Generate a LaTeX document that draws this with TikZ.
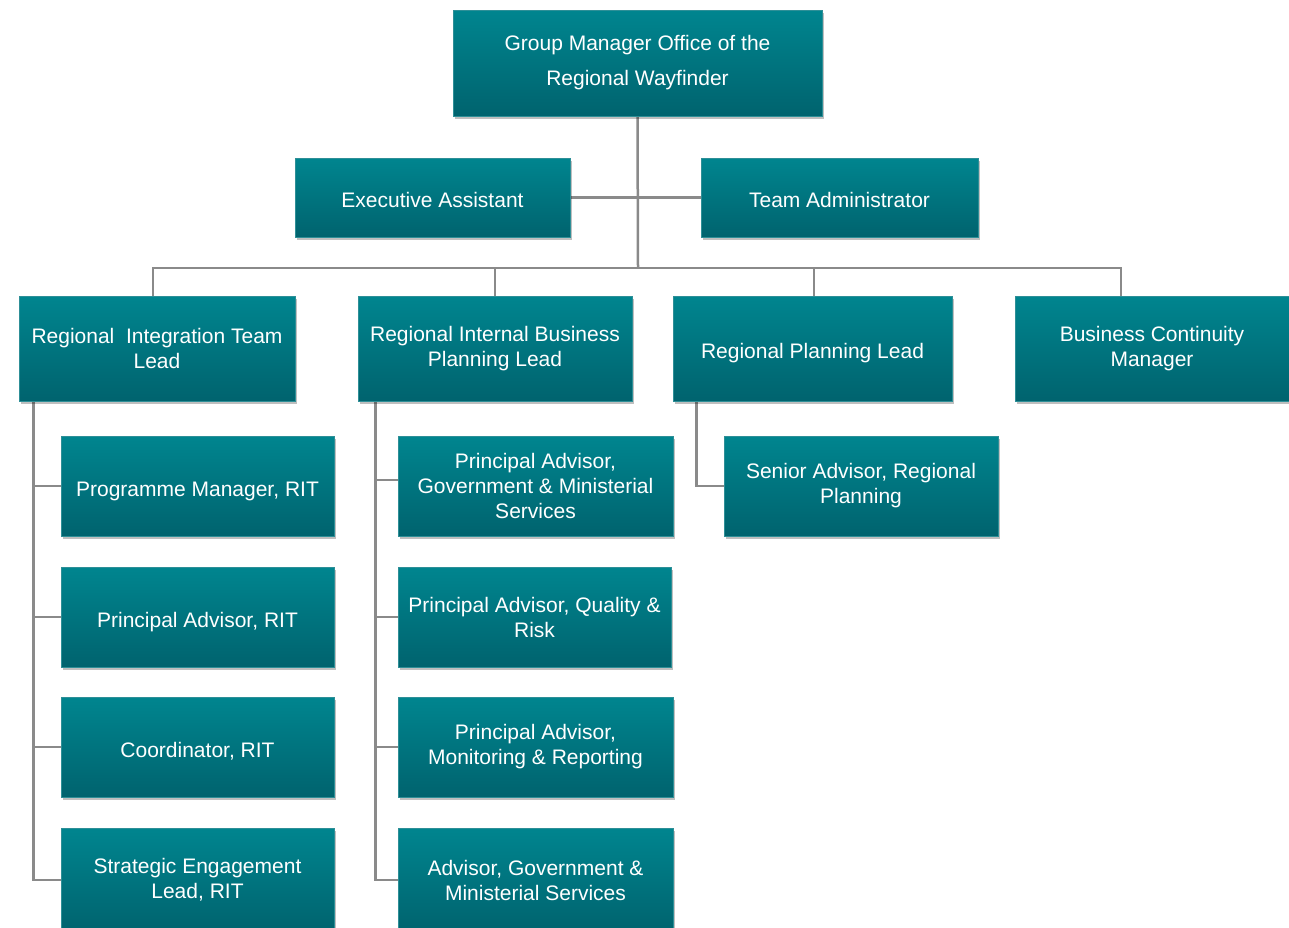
\documentclass[tikz,border=0pt]{standalone}
\usepackage{fontspec}
\setmainfont{Liberation Sans}
\usetikzlibrary{shadows,backgrounds}
\definecolor{tealtop}{HTML}{00858F}
\definecolor{tealbot}{HTML}{00636E}
\definecolor{tealedge}{HTML}{2E8F97}
\definecolor{conngray}{HTML}{8A8A8A}
\tikzset{
  box/.style={rectangle, top color=tealtop, bottom color=tealbot, draw=tealedge, line width=0.8pt,
    text=white, align=center, inner sep=2pt,
    font=\fontsize{21}{25}\selectfont,
    drop shadow={shadow xshift=2pt, shadow yshift=-3pt, opacity=0.25, fill=black}},
  one/.style={text depth=0pt, text height=20pt},
  conn/.style={draw=conngray, line width=2.5pt}
}
\begin{document}
\begin{tikzpicture}[x=1pt,y=-1pt]
\useasboundingbox (0,0) rectangle (1289,927);
\clip (0,0) rectangle (1289,927);
\coordinate (bus) at (638,268);
% top level
\node[box, minimum width=369pt, minimum height=106pt, font=\fontsize{21}{35}\selectfont] (top) at (637.5,63) {Group Manager Office of the\\Regional Wayfinder};
\node[box, one, minimum width=275pt, minimum height=79pt] (ea) at (432.5,197.5) {Executive Assistant};
\node[box, one, minimum width=277pt, minimum height=79pt] (ta) at (839.5,197.5) {Team Administrator};
% second row
\node[box, minimum width=276pt, minimum height=105pt] (ritl) at (157,348.5) {Regional\ \ Integration Team\\Lead};
\node[box, minimum width=274pt, minimum height=105pt] (ribp) at (495,348.5) {Regional Internal Business\\Planning Lead};
\node[box, one, minimum width=279pt, minimum height=105pt] (rpl) at (812.5,348.5) {Regional Planning Lead};
\node[box, minimum width=274pt, minimum height=105pt] (bcm) at (1152,348.5) {Business Continuity\\Manager};
% RIT children
\node[box, one, minimum width=273pt, minimum height=100pt] (rc1) at (197.5,486) {Programme Manager,\ RIT};
\node[box, one, minimum width=273pt, minimum height=100pt] (rc2) at (197.5,617) {Principal Advisor, RIT};
\node[box, one, minimum width=273pt, minimum height=100pt] (rc3) at (197.5,747) {Coordinator, RIT};
\node[box, minimum width=273pt, minimum height=104pt] (rc4) at (197.5,880) {Strategic Engagement\\Lead, RIT};
% RIBP children
\node[box, minimum width=275pt, minimum height=100pt] (bc1) at (535.5,486) {Principal Advisor,\\Government \& Ministerial\\Services};
\node[box, minimum width=273pt, minimum height=100pt] (bc2) at (534.5,617) {Principal Advisor, Quality \&\\Risk};
\node[box, minimum width=275pt, minimum height=100pt] (bc3) at (535.5,747) {Principal Advisor,\\Monitoring \& Reporting};
\node[box, minimum width=275pt, minimum height=104pt] (bc4) at (535.5,880) {Advisor, Government \&\\Ministerial Services};
% RPL child
\node[box, minimum width=274pt, minimum height=100pt] (pc1) at (861,486) {Senior Advisor, Regional\\Planning};
% connector helper points
\coordinate (ritspine) at ([xshift=15pt]ritl.south west);
\coordinate (ribpspine) at ([xshift=18pt]ribp.south west);
\coordinate (rplspine) at ([xshift=24pt]rpl.south west);
\coordinate (bcmdrop) at ([xshift=-31pt]bcm.north);
\coordinate (ritdrop) at ([xshift=-4pt]ritl.north);
\coordinate (rpldrop) at ([xshift=1.5pt]rpl.north);
\coordinate (bc1in) at ([yshift=6pt]bc1.west);
\begin{scope}[on background layer]
\draw[conn] (top.south) -- (bus);
\draw[conn] (ea.east) -- (ta.west);
\draw[conn] (ritdrop) |- (bcmdrop |- bus) -- (bcmdrop);
\draw[conn] (ribp.north) -- (ribp.north |- bus);
\draw[conn] (rpldrop) -- (rpldrop |- bus);
\draw[conn] (ritspine) |- (rc4.west);
\draw[conn] (ritspine |- rc1.west) -- (rc1.west);
\draw[conn] (ritspine |- rc2.west) -- (rc2.west);
\draw[conn] (ritspine |- rc3.west) -- (rc3.west);
\draw[conn] (ribpspine) |- (bc4.west);
\draw[conn] (ribpspine |- bc1in) -- (bc1in);
\draw[conn] (ribpspine |- bc2.west) -- (bc2.west);
\draw[conn] (ribpspine |- bc3.west) -- (bc3.west);
\draw[conn] (rplspine) |- (pc1.west);
\end{scope}
\end{tikzpicture}
\end{document}
